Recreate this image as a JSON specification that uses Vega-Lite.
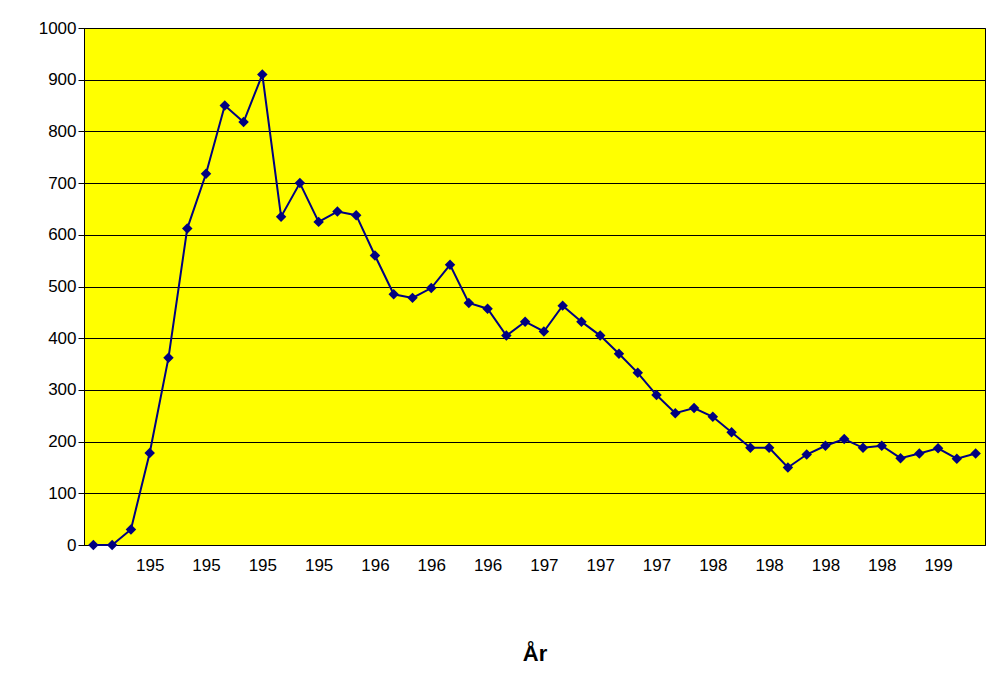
{
  "$schema": "https://vega.github.io/schema/vega-lite/v6.json",
  "width": 901,
  "height": 517,
  "autosize": "none",
  "padding": {"left": 84, "top": 28, "right": 14, "bottom": 133},
  "background": "white",
  "config": {"view": {"fill": "#FFFF00", "stroke": "black", "strokeWidth": 1}, "font": "Arial"},
  "data": {"values": [
    {"year": 1947, "v": 0}, {"year": 1948, "v": 0}, {"year": 1949, "v": 30}, {"year": 1950, "v": 178},
    {"year": 1951, "v": 362}, {"year": 1952, "v": 612}, {"year": 1953, "v": 718}, {"year": 1954, "v": 850},
    {"year": 1955, "v": 818}, {"year": 1956, "v": 910}, {"year": 1957, "v": 635}, {"year": 1958, "v": 700},
    {"year": 1959, "v": 625}, {"year": 1960, "v": 645}, {"year": 1961, "v": 638}, {"year": 1962, "v": 560},
    {"year": 1963, "v": 485}, {"year": 1964, "v": 478}, {"year": 1965, "v": 497}, {"year": 1966, "v": 542},
    {"year": 1967, "v": 468}, {"year": 1968, "v": 457}, {"year": 1969, "v": 405}, {"year": 1970, "v": 432},
    {"year": 1971, "v": 413}, {"year": 1972, "v": 463}, {"year": 1973, "v": 432}, {"year": 1974, "v": 405},
    {"year": 1975, "v": 370}, {"year": 1976, "v": 333}, {"year": 1977, "v": 290}, {"year": 1978, "v": 255},
    {"year": 1979, "v": 265}, {"year": 1980, "v": 248}, {"year": 1981, "v": 218}, {"year": 1982, "v": 188},
    {"year": 1983, "v": 188}, {"year": 1984, "v": 150}, {"year": 1985, "v": 175}, {"year": 1986, "v": 192},
    {"year": 1987, "v": 205}, {"year": 1988, "v": 188}, {"year": 1989, "v": 192}, {"year": 1990, "v": 168},
    {"year": 1991, "v": 177}, {"year": 1992, "v": 187}, {"year": 1993, "v": 167}, {"year": 1994, "v": 177}
  ]},
  "encoding": {
    "x": {"field": "year", "type": "ordinal", "scale": {"paddingInner": 0, "paddingOuter": 0},
      "axis": {"title": "År", "titleFontSize": 22, "titleFontWeight": "bold", "titlePadding": 70,
        "labelAngle": 0, "labelFontSize": 17, "labelColor": "black", "labelPadding": 12, "labelOverlap": false,
        "labelExpr": "(datum.value - 1947) % 3 == 0 && datum.value > 1947 ? substring(datum.label, 0, 3) : ''",
        "ticks": false, "domainColor": "black", "grid": false}},
    "y": {"field": "v", "type": "quantitative", "scale": {"domain": [0, 1000]},
      "axis": {"title": null, "format": "d", "labelOverlap": false, "values": [0,100,200,300,400,500,600,700,800,900,1000],
        "labelFontSize": 17, "labelColor": "black", "grid": true, "gridColor": "black", "gridOpacity": 1,
        "domainColor": "black", "tickColor": "black", "tickSize": 6}}
  },
  "layer": [
    {"mark": {"type": "line", "color": "#000080", "strokeWidth": 2}},
    {"mark": {"type": "point", "shape": "diamond", "filled": true, "color": "#000080", "size": 110, "opacity": 1}}
  ]
}
